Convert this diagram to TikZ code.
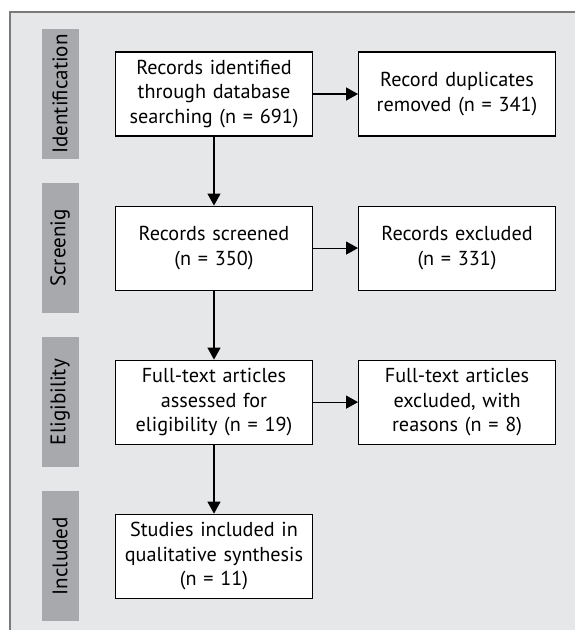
\documentclass[tikz,border=0pt]{standalone}
\usepackage{fontspec}
\setmainfont{PT Sans}
\usepackage{tikz}
\usetikzlibrary{arrows.meta,positioning}
\definecolor{panel}{HTML}{E6E7E9}
\definecolor{frameline}{HTML}{7A7A7A}
\definecolor{stage}{HTML}{A7A9AC}
\tikzset{
  box/.style={rectangle, draw=black, fill=white, line width=0.6pt,
              align=center, inner sep=3pt, text width=3.7cm,
              minimum width=3.94cm, minimum height=1.68cm, font=\fontsize{11.5}{14}\selectfont,
              execute at begin node=\setlength{\baselineskip}{14pt}},
  stagebar/.style={rectangle, fill=stage, minimum width=2.6cm, minimum height=0.74cm,
              rotate=90, inner sep=0pt, font=\fontsize{12}{14}\selectfont},
  flow/.style={-{Triangle[length=6.8pt,width=7.4pt]}, draw=black, line width=0.6pt}
}
\begin{document}
\begin{tikzpicture}[node distance=1.38cm and 0.9cm]
  \useasboundingbox (0,0) rectangle (11.5,-12.6);
  % panel
  \fill[panel] (0.2,-0.24) rectangle (11.5,-12.6);
  \draw[frameline, line width=0.6pt] (0.2,-12.6) -- (0.2,-0.24) -- (11.5,-0.24);
  % boxes
  \node[box] (id) at (4.28,-1.88) {Records identified\\through database\\searching (n = 691)};
  \node[box, right=of id] (dup) {Record duplicates\\removed (n = 341)};
  \node[box, below=of id] (scr) {Records screened\\(n = 350)};
  \node[box, right=of scr] (exc) {Records excluded\\(n = 331)};
  \node[box, below=of scr] (ft) {Full-text articles\\assessed for\\eligibility (n = 19)};
  \node[box, right=of ft] (ftx) {Full-text articles\\excluded, with\\reasons (n = 8)};
  \node[box, below=of ft] (inc) {Studies included in\\qualitative synthesis\\(n = 11)};
  % stages (rotated, so south faces the boxes)
  \node[stagebar, left=0.72cm of id, anchor=south] (s1) {Identification};
  \node[stagebar, left=0.72cm of scr, anchor=south] (s2) {Screenig};
  \node[stagebar, left=0.72cm of ft, anchor=south] (s3) {Eligibility};
  \node[stagebar, left=0.72cm of inc, anchor=south] (s4) {Included};
  % arrows
  \draw[flow] (id) -- (dup);
  \draw[flow] (id) -- (scr);
  \draw[flow] (scr) -- (exc);
  \draw[flow] (scr) -- (ft);
  \draw[flow] (ft) -- (ftx);
  \draw[flow] (ft) -- (inc);
\end{tikzpicture}
\end{document}
